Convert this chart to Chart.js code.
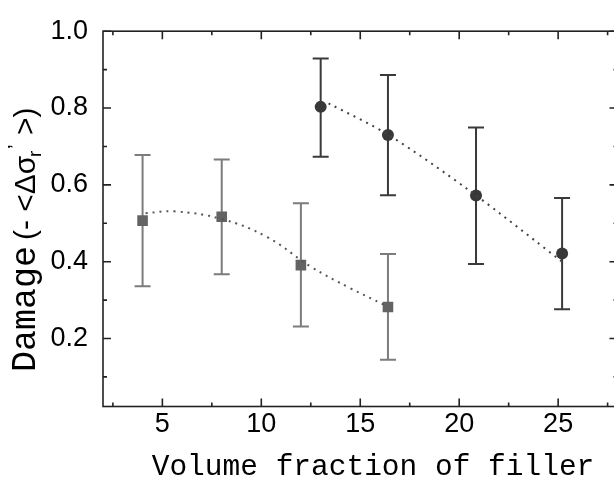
<!DOCTYPE html>
<html><head><meta charset="utf-8">
<script src="https://cdn.jsdelivr.net/npm/chart.js@4.4.1/dist/chart.umd.min.js"></script>
<style>html,body{margin:0;padding:0;background:#fff;overflow:hidden}canvas{display:block}</style>
</head><body>
<canvas id="c" width="625" height="478" style="width:625px;height:478px"></canvas>
<script>
// ---- data ----
const squareX  = [4, 8, 12, 16.4];
const squareY  = [0.507, 0.517, 0.391, 0.282];
const squareHi = [0.678, 0.666, 0.552, 0.420];
const squareLo = [0.336, 0.367, 0.231, 0.145];

const circleX  = [13, 16.4, 20.85, 25.2];
const circleY  = [0.803, 0.730, 0.572, 0.421];
const circleHi = [0.929, 0.886, 0.749, 0.566];
const circleLo = [0.673, 0.573, 0.394, 0.276];

const squareFitX = [4.15, 5.6, 8.0, 10.3, 12.5, 14.5, 16.2];
const squareFitY = [0.526, 0.531, 0.511, 0.464, 0.387, 0.331, 0.288];
const circleFitX = [13.4, 16.4, 20.6, 25.2];
const circleFitY = [0.812, 0.731, 0.582, 0.400];

const xTicks = [5, 10, 15, 20, 25];
const yTicks = [0.2, 0.4, 0.6, 0.8, 1.0];
const xMinor = [2.5, 7.5, 12.5, 17.5, 22.5, 27.5];
const yMinor = [0.1, 0.3, 0.5, 0.7, 0.9];

const xTitle = 'Volume fraction of filler';
const yTitleMain = 'Damage';
// pieces of "(- <Δσ_r'>)" : [text, offset along axis, baseline shift, size]
const yTitlePieces = [
  ['(- <\u0394\u03C3', 132, 0, 30], ['r', 215, 6, 19], ['\u2019', 223, -13, 21], ['>)', 237, 0, 30]
];

const pts = (xs, ys) => xs.map((v, i) => ({x: v, y: ys[i]}));

const deco = {
  id: 'deco',
  beforeDatasetsDraw(chart) {
    const {ctx, scales: {x, y}} = chart;
    ctx.save();
    const bars = (xs, hi, lo, color) => {
      ctx.strokeStyle = color; ctx.lineWidth = 2;
      xs.forEach((v, i) => {
        const px = x.getPixelForValue(v);
        const pt = y.getPixelForValue(hi[i]), pb = y.getPixelForValue(lo[i]);
        ctx.beginPath();
        ctx.moveTo(px, pt); ctx.lineTo(px, pb);
        ctx.moveTo(px - 8, pt); ctx.lineTo(px + 8, pt);
        ctx.moveTo(px - 8, pb); ctx.lineTo(px + 8, pb);
        ctx.stroke();
      });
    };
    bars(squareX, squareHi, squareLo, '#7c7c7c');
    bars(circleX, circleHi, circleLo, '#3a3a3a');
    ctx.restore();
  },
  afterDraw(chart) {
    const {ctx, chartArea: a, scales: {x, y}} = chart;
    ctx.save();
    ctx.strokeStyle = '#222'; ctx.lineWidth = 1.6;
    ctx.strokeRect(a.left, a.top, a.right - a.left, a.bottom - a.top);
    ctx.beginPath();
    const tx = (v, len) => { const p = x.getPixelForValue(v);
      ctx.moveTo(p, a.bottom); ctx.lineTo(p, a.bottom - len);
      ctx.moveTo(p, a.top); ctx.lineTo(p, a.top + len); };
    const ty = (v, len) => { const p = y.getPixelForValue(v);
      ctx.moveTo(a.left, p); ctx.lineTo(a.left + len, p);
      ctx.moveTo(a.right, p); ctx.lineTo(a.right - len, p); };
    xTicks.forEach(v => tx(v, 8)); xMinor.forEach(v => tx(v, 4));
    yTicks.forEach(v => ty(v, 8)); yMinor.forEach(v => ty(v, 4));
    ctx.stroke();

    // axis titles
    ctx.fillStyle = '#000';
    ctx.font = '29.5px "Liberation Mono"';
    ctx.textAlign = 'center'; ctx.textBaseline = 'alphabetic';
    ctx.fillText(xTitle, 373, 475);

    ctx.translate(35, 372);
    ctx.rotate(-Math.PI / 2);
    ctx.textAlign = 'left';
    ctx.font = '35px "Liberation Mono"';
    ctx.fillText(yTitleMain, 0, 0);
    yTitlePieces.forEach(([t, off, dy, sz]) => {
      ctx.font = sz + 'px "Liberation Sans"';
      ctx.fillText(t, off, dy);
    });
    ctx.restore();
  }
};

new Chart(document.getElementById('c'), {
  type: 'scatter',
  data: {
    datasets: [
      {data: pts(squareFitX, squareFitY), showLine: true, pointRadius: 0, borderColor: '#555',
       borderWidth: 2, borderDash: [2, 5], tension: 0.4, fill: false},
      {data: pts(circleFitX, circleFitY), showLine: true, pointRadius: 0, borderColor: '#444',
       borderWidth: 2, borderDash: [2, 5], tension: 0.3, fill: false},
      {data: pts(squareX, squareY), pointStyle: 'rect', pointRadius: 7.5,
       backgroundColor: '#636363', borderColor: '#636363', borderWidth: 0},
      {data: pts(circleX, circleY), pointStyle: 'circle', pointRadius: 6,
       backgroundColor: '#383838', borderColor: '#383838', borderWidth: 0}
    ]
  },
  options: {
    responsive: false, animation: false, devicePixelRatio: 1,
    layout: {padding: {top: 27, right: 0, left: 0, bottom: 0}},
    plugins: {legend: {display: false}, tooltip: {enabled: false}},
    scales: {
      x: {type: 'linear', min: 2, max: 28,
          afterBuildTicks: s => { s.ticks = xTicks.map(v => ({value: v})); },
          afterFit: s => { s.height = 71.5; },
          grid: {display: false, drawTicks: false}, border: {display: false},
          ticks: {color: '#000', padding: 2, maxRotation: 0, font: {family: 'Liberation Sans', size: 27}}},
      y: {type: 'linear', min: 0.023, max: 1.0,
          afterBuildTicks: s => { s.ticks = yTicks.map(v => ({value: v})); },
          afterFit: s => { s.width = 103; },
          grid: {display: false, drawTicks: false}, border: {display: false},
          ticks: {color: '#000', padding: 15, font: {family: 'Liberation Sans', size: 27},
                  callback: v => v.toFixed(1)}}
    }
  },
  plugins: [deco]
});
</script>
</body></html>
